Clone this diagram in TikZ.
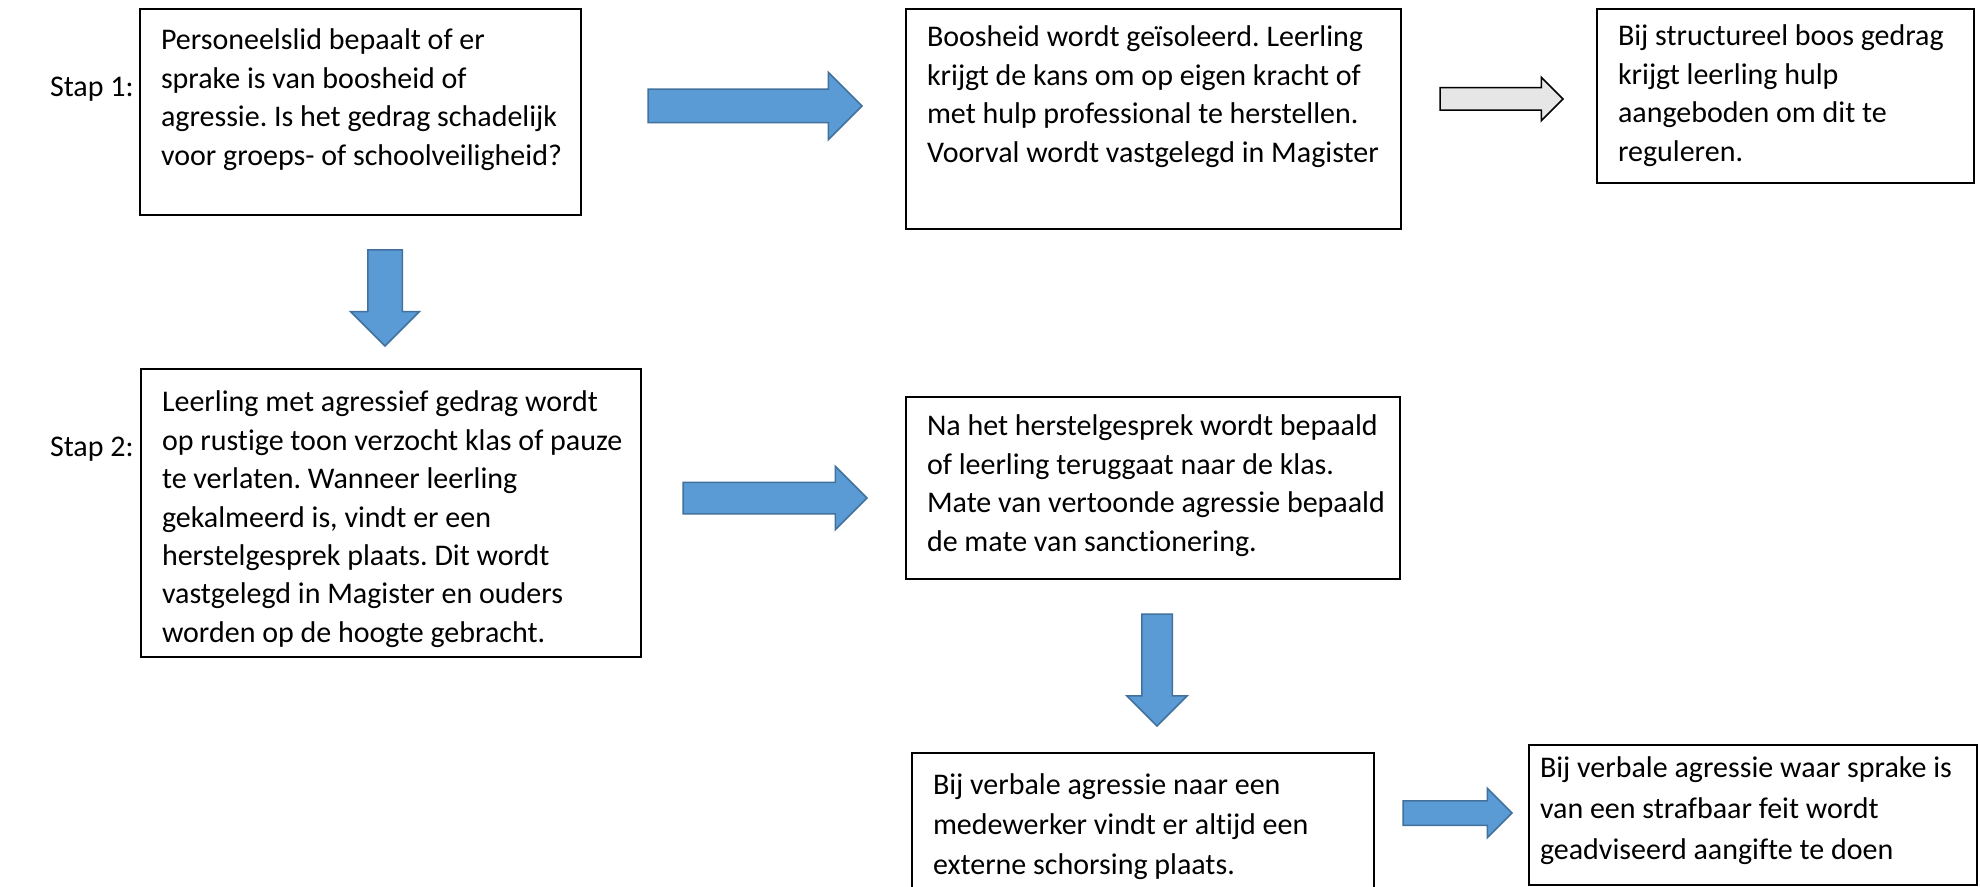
\documentclass[tikz,border=0pt]{standalone}
\usepackage{fontspec}
\setmainfont{Carlito}[Ligatures=NoCommon]
\usepackage{tikz}
\usetikzlibrary{shapes.arrows}
\definecolor{arrowblue}{HTML}{5B9BD5}
\definecolor{arrowedge}{HTML}{41719C}
\definecolor{arrowgrey}{HTML}{E7E6E6}

\begin{document}
\begin{tikzpicture}[x=0.5pt,y=-0.5pt
  ,font=\fontsize{15}{19.2}\selectfont\frenchspacing
  ,every node/.style={outer sep=0pt}]
  \tikzstyle{tbox}=[draw,line width=0.9pt,anchor=north west
  ,align=flush left,inner xsep=10.5pt,inner ysep=0pt,text height=20.5pt
  ,execute at begin node={\rightskip=-10pt plus 1fil}]
  \tikzstyle{barrow}=[single arrow,draw=arrowedge,fill=arrowblue
  ,line width=0.75pt,anchor=tail,minimum width=0pt]
  \tikzstyle{garrow}=[barrow,draw=black,fill=arrowgrey]

  \path[use as bounding box,fill=white] (0,0) rectangle (1980,887);

  % step labels
  \node[anchor=base west,inner sep=0pt] (s1) at (50,97) {Stap 1:};
  \node[anchor=base west,inner sep=0pt] (s2) at (50,457) {Stap 2:};

  % top row
  \node[tbox,text width=199.5pt,text depth=82.5pt] (pers) at (140,9)
  {Personeelslid bepaalt of er\\ sprake is van boosheid of\\
    agressie. Is het gedrag schadelijk\\ voor groeps- of schoolveiligheid?};
  \node[tbox,text width=226.5pt,text height=19pt,text depth=91pt] (boos) at (906,9)
  {Boosheid wordt geïsoleerd. Leerling\\ krijgt de kans om op eigen kracht of\\
    met hulp professional te herstellen.\\ Voorval wordt vastgelegd in Magister};
  \node[tbox,text width=167.5pt,text height=18.5pt,text depth=68.5pt] (struc) at (1597,9)
  {Bij structureel boos gedrag\\ krijgt leerling hulp\\
    aangeboden om dit te\\ reguleren.};

  % middle row
  \node[tbox,text width=229pt,text height=21.5pt,text depth=122.5pt] (leer) at (141,369)
  {Leerling met agressief gedrag wordt\\ op rustige toon verzocht klas of pauze\\
    te verlaten. Wanneer leerling\\ gekalmeerd is, vindt er een\\
    herstelgesprek plaats. Dit wordt\\ vastgelegd in Magister en ouders\\
    worden op de hoogte gebracht.};
  \node[tbox,text width=226pt,text height=19.5pt,text depth=71.5pt] (na) at (906,397)
  {Na het herstelgesprek wordt bepaald\\ of leerling teruggaat naar de klas.\\
    Mate van vertoonde agressie bepaald\\ de mate van sanctionering.};

  % bottom row
  \node[tbox,font=\fontsize{15}{20}\selectfont\frenchspacing
  ,text width=210pt,text depth=49.5pt] (verb) at (912,753)
  {Bij verbale agressie naar een\\ medewerker vindt er altijd een\\
    externe schorsing plaats.};
  \node[tbox,font=\fontsize{15}{20.5}\selectfont\frenchspacing
  ,inner xsep=5.5pt,text width=213pt,text height=16pt,text depth=54pt]
  (aang) at (1529,745)
  {Bij verbale agressie waar sprake is\\ van een strafbaar feit wordt\\
    geadviseerd aangifte te doen};

  % block arrows
  \node[barrow,minimum height=107pt,inner sep=8pt,single arrow head extend=8.5pt]
  (a1) at (648,106) {};
  \node[garrow,minimum height=61.5pt,inner sep=5.25pt,single arrow head extend=5.25pt]
  (g1) at (1440,99) {};
  \node[barrow,shape border rotate=270,minimum height=48pt,inner sep=8.25pt
  ,single arrow head extend=8.5pt] (d1) at (385,250) {};
  \node[barrow,minimum height=92pt,inner sep=7.5pt,single arrow head extend=8pt]
  (a2) at (683,498) {};
  \node[barrow,shape border rotate=270,minimum height=56pt,inner sep=7.25pt
  ,single arrow head extend=7.5pt] (d2) at (1157,614) {};
  \node[barrow,minimum height=54.5pt,inner sep=5.75pt,single arrow head extend=6.25pt]
  (a3) at (1403,813) {};
\end{tikzpicture}
\end{document}
